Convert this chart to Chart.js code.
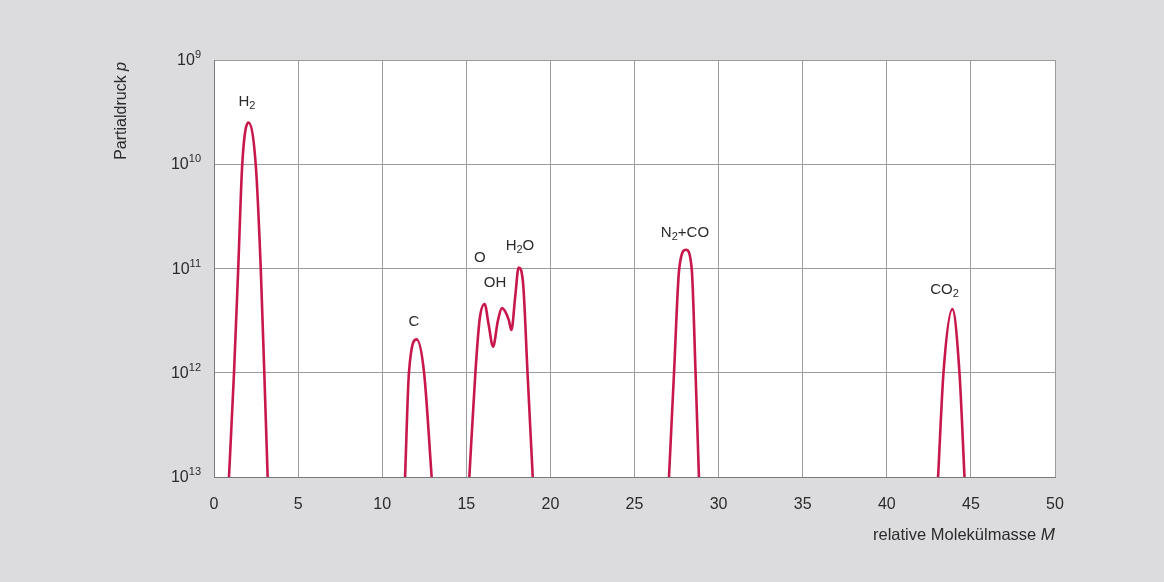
<!DOCTYPE html>
<html lang="de">
<head>
<meta charset="UTF-8">
<title>Partialdruck</title>
<script src="https://cdn.jsdelivr.net/npm/chart.js"></script>
<style>
    body { margin: 0; background: #dcdcde; }
    .box { width: 1164px; height: 582px; position: relative; }
</style>
</head>
<body>
<div class="box"><canvas id="grafico"></canvas></div>
<script>
    // x = relative Molekuelmasse, y = Exponent des Partialdrucks (10^9 oben, 10^13 unten)
    const massH2 = [0.89, 1.19, 1.44, 1.68, 2.04, 2.48, 2.78, 2.99, 3.19];
    const expH2  = [13, 12, 11, 10, 9.60, 10, 11, 12, 13];

    const massC = [11.36, 11.59, 12.05, 12.49, 12.94];
    const expC  = [13, 12, 11.68, 12, 13];

    const massOH2O = [15.18, 15.54, 15.80, 16.09, 16.33, 16.59, 16.88, 17.12, 17.52, 17.68, 17.92, 18.11, 18.37, 18.64, 18.95];
    const expOH2O  = [13, 12, 11.48, 11.34, 11.54, 11.75, 11.50, 11.38, 11.49, 11.59, 11.25, 10.99, 11.13, 12, 13];

    const massN2 = [27.05, 27.35, 27.66, 28.06, 28.40, 28.63, 28.83];
    const expN2  = [13, 12, 11, 10.82, 11, 12, 13];

    const massCO2 = [43.05, 43.37, 43.90, 44.32, 44.62];
    const expCO2  = [13, 12, 11.39, 12, 13];

    const peakLabels = ['H_2', 'C', 'O', 'OH', 'H_2O', 'N_2+CO', 'CO_2'];
    const labelMass  = [1.96, 11.89, 15.81, 16.71, 18.19, 28.0, 43.43];
    const labelExp   = [9.39, 11.50, 10.89, 11.13, 10.77, 10.65, 11.20];

    const xTicks = [0, 5, 10, 15, 20, 25, 30, 35, 40, 45, 50];
    const yExponents = [9, 10, 11, 12, 13];

    const corLinha = '#c8174b';
    const corTexto = '#2b2b2b';
    const fonte = 'Arial, "Liberation Sans", sans-serif';

    function pontos(ms, es) {
        return ms.map(function (m, i) { return { x: m, y: es[i] }; });
    }

    function serie(ms, es) {
        return {
            data: pontos(ms, es),
            borderColor: corLinha,
            borderWidth: 2.6,
            pointRadius: 0,
            fill: false,
            cubicInterpolationMode: 'monotone'
        };
    }

    // texto com indice ("_2") desenhado em partes
    function desenharIndice(ctx, txt, cx, cy, tam) {
        const partes = [];
        for (let i = 0; i < txt.length; i++) {
            if (txt[i] === '_') { partes.push({ t: txt[i + 1], sub: true }); i++; }
            else partes.push({ t: txt[i], sub: false });
        }
        let larg = 0;
        partes.forEach(function (p) {
            ctx.font = (p.sub ? Math.round(tam * 0.7) : tam) + 'px ' + fonte;
            p.w = ctx.measureText(p.t).width;
            larg += p.w;
        });
        let x = cx - larg / 2;
        ctx.textAlign = 'left';
        ctx.textBaseline = 'alphabetic';
        partes.forEach(function (p) {
            ctx.font = (p.sub ? Math.round(tam * 0.7) : tam) + 'px ' + fonte;
            ctx.fillText(p.t, x, cy + (p.sub ? 3 : 0));
            x += p.w;
        });
    }

    const textosExtras = {
        id: 'textosExtras',
        afterDraw(chart) {
            const ctx = chart.ctx;
            const xs = chart.scales.x;
            const ys = chart.scales.y;
            ctx.save();
            ctx.fillStyle = corTexto;

            // rotulos do eixo y: 10 com expoente
            yExponents.forEach(function (e) {
                const py = ys.getPixelForValue(e);
                ctx.textBaseline = 'alphabetic';
                ctx.textAlign = 'right';
                ctx.font = '11px ' + fonte;
                const sup = String(e);
                const wSup = ctx.measureText(sup).width;
                ctx.fillText(sup, 201, py - 2);
                ctx.font = '16px ' + fonte;
                ctx.fillText('10', 201 - wSup, py + 5);
            });

            // nomes dos picos
            peakLabels.forEach(function (t, i) {
                desenharIndice(ctx, t, xs.getPixelForValue(labelMass[i]), ys.getPixelForValue(labelExp[i]) + 5, 15);
            });

            // titulo eixo x
            ctx.textBaseline = 'alphabetic';
            ctx.textAlign = 'right';
            ctx.font = 'italic 17px ' + fonte;
            const wM = ctx.measureText('M').width;
            ctx.fillText('M', 1055, 540);
            ctx.font = '16.5px ' + fonte;
            ctx.fillText('relative Molekülmasse ', 1055 - wM, 540);

            // titulo eixo y
            ctx.translate(126, 62);
            ctx.rotate(-Math.PI / 2);
            ctx.font = 'italic 16px ' + fonte;
            const wp = ctx.measureText('p').width;
            ctx.fillText('p', 0, 0);
            ctx.font = '16px ' + fonte;
            ctx.fillText('Partialdruck ', -wp, 0);
            ctx.restore();
        }
    };

    const fundoArea = {
        id: 'fundoArea',
        beforeDraw(chart) {
            const a = chart.chartArea;
            chart.ctx.save();
            chart.ctx.fillStyle = '#ffffff';
            chart.ctx.fillRect(a.left, a.top, a.right - a.left, a.bottom - a.top);
            chart.ctx.restore();
        }
    };

    new Chart(document.getElementById('grafico'), {
        type: 'line',
        data: {
            datasets: [
                serie(massH2, expH2),
                serie(massC, expC),
                serie(massOH2O, expOH2O),
                serie(massN2, expN2),
                serie(massCO2, expCO2)
            ]
        },
        options: {
            responsive: true,
            maintainAspectRatio: false,
            animation: false,
            layout: { padding: { top: 60, right: 109, left: 0, bottom: 0 } },
            plugins: { legend: { display: false }, tooltip: { enabled: false } },
            scales: {
                x: {
                    type: 'linear',
                    min: xTicks[0],
                    max: xTicks[xTicks.length - 1],
                    afterBuildTicks: function (s) { s.ticks = xTicks.map(function (v) { return { value: v }; }); },
                    afterFit: function (s) { s.height = 105; },
                    ticks: { color: corTexto, font: { size: 16, family: fonte }, padding: 18 },
                    grid: { color: '#9b9b9b', lineWidth: 1, drawTicks: false },
                    border: { color: '#7a7a7a', width: 1 }
                },
                y: {
                    type: 'linear',
                    min: 9,
                    max: 13,
                    reverse: true,
                    afterBuildTicks: function (s) { s.ticks = yExponents.map(function (v) { return { value: v }; }); },
                    afterFit: function (s) { s.width = 214; },
                    ticks: { callback: function () { return ''; } },
                    grid: { color: '#9b9b9b', lineWidth: 1, drawTicks: false },
                    border: { color: '#7a7a7a', width: 1 }
                }
            }
        },
        plugins: [fundoArea, textosExtras]
    });
</script>
</body>
</html>
